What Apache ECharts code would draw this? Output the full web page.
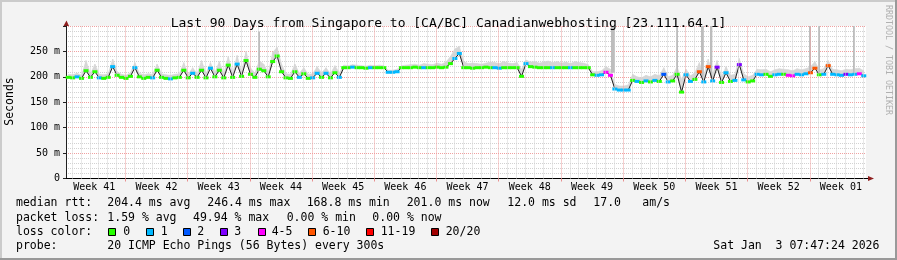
<!DOCTYPE html>
<html><head><meta charset="utf-8">
<script src="https://cdn.jsdelivr.net/npm/echarts@6/dist/echarts.min.js"></script>
<style>html,body{margin:0;padding:0;background:#f3f3f3}#c{width:897px;height:260px}</style>
</head><body><div id="c"></div>
<script>
// x axis unit: days since Sun 2025-10-05 00:00 (local); chart starts at 07:47:24
const START_OFFSET = 0.3246;
const SPAN_DAYS = 90;
const SAMPLE_STEP = 0.5;

const weekLabels = ['Week 41','Week 42','Week 43','Week 44','Week 45','Week 46','Week 47','Week 48','Week 49','Week 50','Week 51','Week 52','Week 01'];
const weekCenters = [3.5,10.5,17.5,24.5,31.5,38.5,45.5,52.5,59.5,66.5,73.5,80.5,87.5];
const sundays = [7,14,21,28,35,42,49,56,63,70,77,84];
const midnights = [1,2,3,4,5,6,7,8,9,10,11,12,13,14,15,16,17,18,19,20,21,22,23,24,25,26,27,28,29,30,31,32,33,34,35,36,37,38,39,40,41,42,43,44,45,46,47,48,49,50,51,52,53,54,55,56,57,58,59,60,61,62,63,64,65,66,67,68,69,70,71,72,73,74,75,76,77,78,79,80,81,82,83,84,85,86,87,88,89,90];

// median RTT (ms), one value per half day
const median = [
199,198,200,197,212,199,210,198,197,199,
220,203,199,197,201,218,200,197,199,198,
213,199,197,196,198,199,213,198,207,199,
213,198,217,200,213,198,223,199,225,201,
232,205,199,215,212,200,230,241,210,198,
197,210,199,206,197,198,207,199,207,198,
208,199,218,218,219,218,218,217,218,218,
218,218,209,209,210,218,218,218,219,218,
218,218,218,219,218,219,226,236,246,218,
218,217,218,218,219,218,218,217,218,218,
218,218,201,226,220,219,218,218,218,218,
218,218,218,218,218,218,218,218,204,203,
204,209,203,176,174,174,174,193,191,189,
192,190,193,191,205,190,192,205,170,204,
191,195,210,190,220,192,219,189,208,191,
193,224,194,190,192,205,204,205,201,204,
205,205,203,202,205,204,206,208,217,204,
205,222,205,204,203,205,204,205,206,202];

// loss bin index per sample (0:'0',1:'1',2:'2',3:'3',4:'4-5',5:'6-10',6:'11-19',7:'20/20')
const loss = [
0,0,1,0,0,0,0,1,0,0,
1,0,0,0,0,1,0,0,0,1,
0,0,0,1,0,0,0,0,1,0,
0,0,1,0,0,0,0,0,1,0,
0,0,0,0,0,0,0,0,0,0,
0,0,1,0,0,1,1,0,1,0,
0,1,0,0,1,0,0,0,1,0,
0,0,1,1,1,0,0,0,0,0,
1,0,0,0,0,0,0,1,1,0,
0,0,0,0,0,0,1,1,0,0,
0,0,0,1,0,0,0,0,0,1,
0,0,0,1,0,0,0,0,0,1,
1,4,4,1,1,1,1,0,1,0,
1,0,1,0,2,1,0,0,0,1,
1,0,5,1,5,1,3,0,1,0,
1,3,1,0,0,1,1,0,0,1,
1,0,4,4,1,1,1,5,5,0,
1,5,1,1,1,3,1,1,4,1];

// upper edge of the smoke (ms)
const smokeHi = [
205,204,207,203,232,206,225,205,204,206,
235,210,205,203,208,228,207,204,206,205,
225,206,204,203,205,206,228,205,218,206,
232,206,228,208,230,206,240,207,242,210,
250,218,207,232,225,208,248,258,225,206,
205,225,207,218,205,206,220,208,218,206,
222,208,223,222,224,223,222,221,223,222,
223,222,213,213,215,222,223,224,225,223,
226,225,224,227,225,229,240,255,260,230,
226,227,226,225,227,229,228,226,230,227,
226,228,215,233,229,230,227,229,231,228,
230,227,229,226,230,228,227,224,210,210,
212,220,215,185,182,182,184,205,200,198,
203,200,205,202,218,200,203,220,195,215,
202,208,228,202,235,205,232,200,220,203,
205,236,206,200,203,215,214,215,210,214,
216,215,214,212,216,214,216,220,230,214,
216,232,215,214,212,215,214,216,217,212];

// isolated tall smoke spikes: day since chart start, low and high (ms)
const spikeDays = [21.75,61.39,61.68,68.70,71.51,71.69,72.56,83.70,84.71,88.65];
const spikeLow  = [212,208,208,198,200,200,200,208,208,208];
const spikeHigh = [289,300,300,300,300,300,300,300,300,300];

const lossColors = ['#26ff00','#00b8ff','#0059ff','#7e00ff','#ff00ff','#ff5500','#ff0000','#a10000'];
const lossLabels = ['0','1','2','3','4-5','6-10','11-19','20/20'];

const MONO = '"DejaVu Sans Mono"';
const xs = median.map((_, i) => START_OFFSET + (i + 0.5) * SAMPLE_STEP);
const chart = echarts.init(document.getElementById('c'));

const GRID = {left:66, top:26, width:800, height:152.5};
const SMOKE = '#d6d6d6';

// smoke polygons between consecutive samples: [x_i, med_i, hi_i, x_j, med_j, hi_j]
const smokeSegs = [];
for (let i = 0; i < median.length - 1; i++) {
  smokeSegs.push([xs[i], median[i], smokeHi[i], xs[i+1], median[i+1], smokeHi[i+1]]);
}

const option = {
  animation:false,
  backgroundColor:'#f3f3f3',
  title:{text:'Last 90 Days from Singapore to [CA/BC] Canadianwebhosting [23.111.64.1]', left:'center', top:12,
    textStyle:{fontFamily:MONO, fontSize:13, fontWeight:'normal', color:'#000'}},
  grid:{left:GRID.left, top:GRID.top, width:GRID.width, height:GRID.height, show:true, backgroundColor:'#ffffff', borderWidth:0},
  xAxis:{type:'value', min:START_OFFSET, max:START_OFFSET+SPAN_DAYS,
    splitLine:{show:false},
    axisLine:{show:true, lineStyle:{color:'#000', width:1}},
    axisTick:{show:true, customValues:sundays, length:3, lineStyle:{color:'#e88f8f'}},
    axisLabel:{customValues:weekCenters, margin:4, fontFamily:MONO, fontSize:10, color:'#000',
      formatter:v=>{const k=weekCenters.findIndex(c=>Math.abs(c-v)<0.01);return k>=0?weekLabels[k]:'';}}},
  yAxis:{type:'value', min:0, max:300, interval:50,
    axisLine:{show:true, lineStyle:{color:'#202020', width:1}},
    axisTick:{show:true, length:3, lineStyle:{color:'#202020'}},
    axisLabel:{margin:6, fontFamily:MONO, fontSize:10, color:'#000',
      formatter:v=>v===0?'0':(v>=300?'':v+' m')},
    splitLine:{show:true, lineStyle:{color:'#f0a0a0', type:[1,1], width:1}},
    minorTick:{show:false, splitNumber:5},
    minorSplitLine:{show:true, lineStyle:{color:'#d2d2d2', type:[1,1], width:1}}},
  series:[
    {type:'line', data:[], silent:true, z:1,
      markLine:{silent:true, symbol:['none','none'], label:{show:false},
        lineStyle:{color:'#d2d2d2', type:[1,1], width:1},
        data:midnights.filter(d=>sundays.indexOf(d)<0).map(d=>({xAxis:d}))}},
    {type:'line', data:[], silent:true, z:1,
      markLine:{silent:true, symbol:['none','none'], label:{show:false},
        lineStyle:{color:'#f0a0a0', type:[1,1], width:1},
        data:sundays.map(d=>({xAxis:d}))}},
    {type:'custom', z:2, silent:true, data:smokeSegs,
      encode:{x:[0,3], y:[1,2,4,5]},
      renderItem:(params, api)=>{
        const p = [
          api.coord([api.value(0), api.value(1)]),
          api.coord([api.value(0), api.value(2)]),
          api.coord([api.value(3), api.value(5)]),
          api.coord([api.value(3), api.value(4)])
        ];
        return {type:'polygon', shape:{points:p}, style:{fill:SMOKE, stroke:SMOKE, lineWidth:0.6}};
      }},
    {type:'custom', z:2, silent:true,
      data:spikeDays.map((d,i)=>[START_OFFSET+d, spikeLow[i], spikeHigh[i]]),
      encode:{x:0, y:[1,2]},
      renderItem:(params, api)=>{
        const lo = api.coord([api.value(0), api.value(1)]);
        const hi = api.coord([api.value(0), api.value(2)]);
        return {type:'rect', shape:{x:Math.round(lo[0])-1, y:hi[1], width:2, height:lo[1]-hi[1]}, style:{fill:'#bdbdbd'}};
      }},
    {type:'line', z:3, showAllSymbol:true,
      symbol:'rect', symbolSize:[5,3],
      lineStyle:{color:'#202020', width:1},
      data:median.map((v,i)=>({value:[xs[i], v], itemStyle:{color:lossColors[loss[i]], borderWidth:0}}))}
  ]
};
chart.setOption(option);

// decorations: frame, arrows, labels, legend
const gfx = [];
gfx.push({type:'rect', shape:{x:0,y:0,width:897,height:2}, style:{fill:'#cbcbcb'}, silent:true});
gfx.push({type:'rect', shape:{x:0,y:0,width:2,height:260}, style:{fill:'#cbcbcb'}, silent:true});
gfx.push({type:'rect', shape:{x:0,y:258,width:897,height:2}, style:{fill:'#999999'}, silent:true});
gfx.push({type:'rect', shape:{x:895,y:0,width:2,height:260}, style:{fill:'#999999'}, silent:true});

const x0 = chart.convertToPixel({xAxisIndex:0}, START_OFFSET);
const x1 = chart.convertToPixel({xAxisIndex:0}, START_OFFSET+SPAN_DAYS);
const y0 = chart.convertToPixel({yAxisIndex:0}, 0);
const yTop = chart.convertToPixel({yAxisIndex:0}, 300);
gfx.push({type:'line', shape:{x1:x1, y1:Math.floor(y0)+0.5, x2:x1+3, y2:Math.floor(y0)+0.5}, style:{stroke:'#000', lineWidth:1}, silent:true});
gfx.push({type:'polygon', shape:{points:[[x1+2,y0-2.5],[x1+8,y0],[x1+2,y0+2.5]]}, style:{fill:'#8f1f1f'}, silent:true});
gfx.push({type:'polygon', shape:{points:[[x0-2.5,yTop],[x0+0.5,yTop-5.5],[x0+3,yTop]]}, style:{fill:'#8f1f1f'}, silent:true});

gfx.push({type:'text', x:10, y:101.5, rotation:Math.PI/2, silent:true,
  style:{text:'Seconds', font:'11.5px '+MONO, fill:'#000', textAlign:'center', textVerticalAlign:'middle'}});
gfx.push({type:'text', x:888, y:5, rotation:-Math.PI/2, silent:true,
  style:{text:'RRDTOOL / TOBI OETIKER', font:'8.3px '+MONO, fill:'#b0b0b0', textAlign:'left', textVerticalAlign:'middle'}});

const legendRows = [
  {y:203.5, items:[[16,'median rtt:'],[107.3,'204.4 ms avg'],[207.3,'246.4 ms max'],[306.7,'168.8 ms min'],[406.7,'201.0 ms now'],[507.3,'12.0 ms sd'],[593.3,'17.0'],[642.3,'am/s']]},
  {y:218.3, items:[[16,'packet loss:'],[107.3,'1.59 % avg'],[193,'49.94 % max'],[286.7,'0.00 % min'],[372.3,'0.00 % now']]},
  {y:232.3, items:[[16,'loss color:']]},
  {y:246.5, items:[[16,'probe:'],[107.3,'20 ICMP Echo Pings (56 Bytes) every 300s'],[713.3,'Sat Jan  3 07:47:24 2026']]}
];
legendRows.forEach(r=>r.items.forEach(([x,t])=>{
  gfx.push({type:'text', x:x, y:r.y, silent:true,
    style:{text:t, font:'11.5px '+MONO, fill:'#000', textAlign:'left', textVerticalAlign:'middle'}});
}));
const boxX = [108,145.5,182.5,220,257.5,308,366,431];
const boxLabelX = [123.3,160.7,197.3,234.3,271.7,322.7,380.7,445.7];
lossLabels.forEach((lab,k)=>{
  gfx.push({type:'rect', shape:{x:Math.round(boxX[k])+0.5, y:228.5, width:7, height:7}, silent:true,
    style:{fill:lossColors[k], stroke:'#000', lineWidth:1}});
  gfx.push({type:'text', x:boxLabelX[k], y:232.3, silent:true,
    style:{text:lab, font:'11.5px '+MONO, fill:'#000', textAlign:'left', textVerticalAlign:'middle'}});
});
chart.setOption({graphic:gfx});
</script>
</body></html>
